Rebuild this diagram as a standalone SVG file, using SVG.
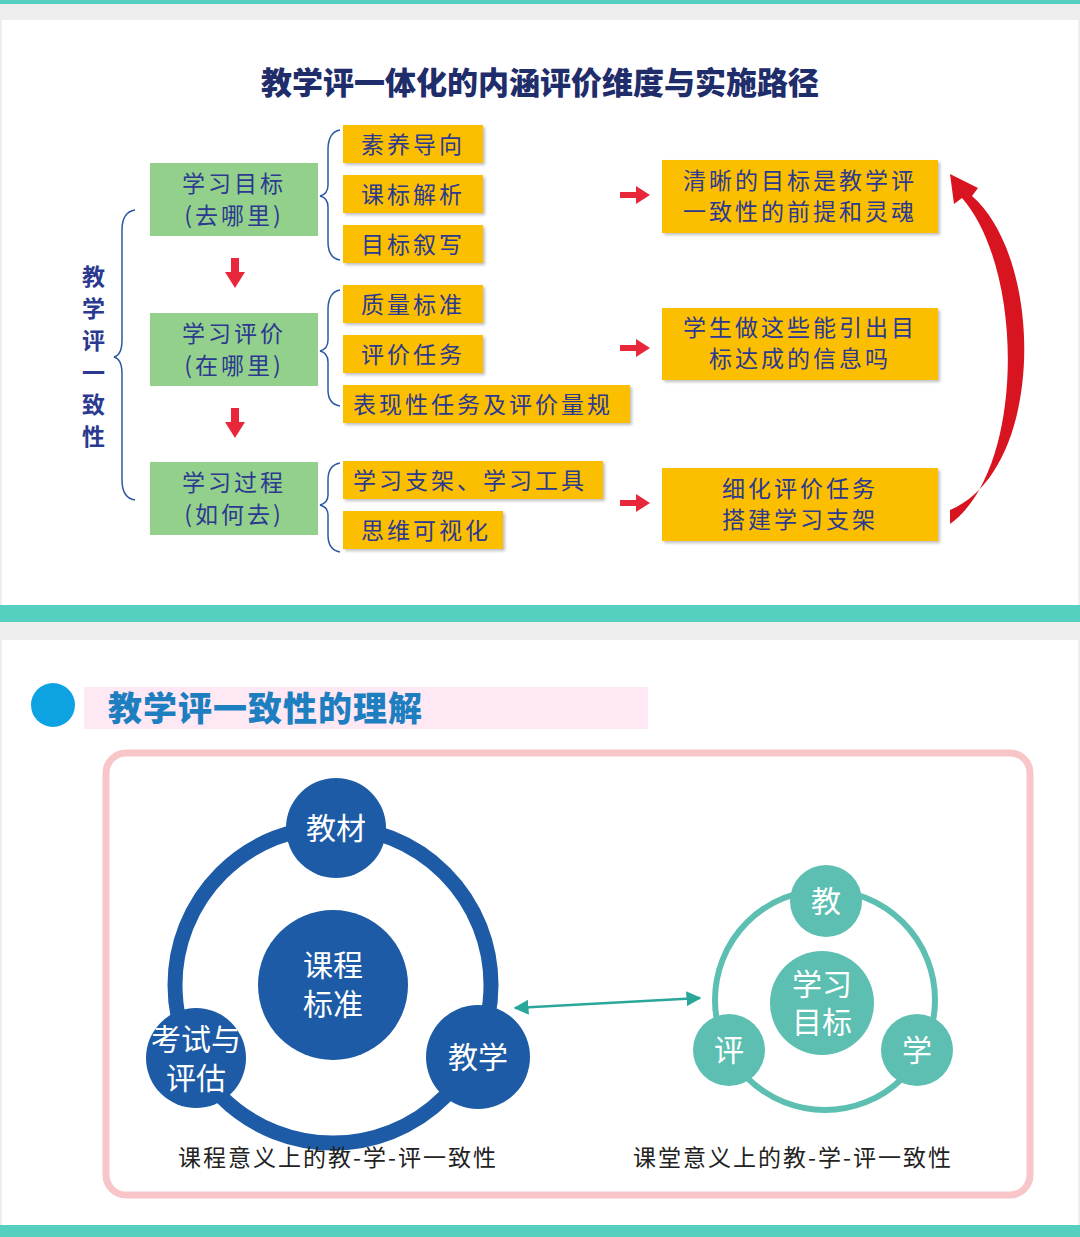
<svg xmlns="http://www.w3.org/2000/svg" width="1080" height="1237" viewBox="0 0 1080 1237">
<defs>
<style>
.g{fill:#93d08b}
.o{fill:#fcbf00}
.t{font-family:"Noto Sans CJK SC","Liberation Serif",serif;fill:#2b3990;font-size:23px;letter-spacing:3px}
.w{font-family:"Noto Sans CJK SC",sans-serif;fill:#fff;font-size:30px;text-anchor:middle}
.br{fill:none;stroke:#2b5aa0;stroke-width:1.5}
.ra{fill:#e8283a}
.cap{font-family:"Noto Sans CJK SC",sans-serif;font-size:23px;fill:#222;letter-spacing:2px;text-anchor:middle}
</style>
<filter id="sh"><feDropShadow dx="2" dy="2" stdDeviation="1.5" flood-color="#000" flood-opacity="0.25"/></filter>
<marker id="ta" viewBox="0 0 10 10" refX="9" refY="5" markerWidth="6" markerHeight="6" orient="auto-start-reverse"><path d="M0,0 L10,5 L0,10 z" fill="#2aa79b"/></marker>
</defs>
<rect width="1080" height="1237" fill="#eeeeee"/>
<rect y="0" width="1080" height="4" fill="#55cfc0"/>
<rect x="2" y="20" width="1076" height="585" fill="#fff"/>
<rect y="605" width="1080" height="17" fill="#55cfc0"/>
<rect x="2" y="640" width="1076" height="585" fill="#fff"/>
<rect y="1225" width="1080" height="12" fill="#55cfc0"/>
<text x="540" y="94" text-anchor="middle" font-family="Noto Sans CJK SC,sans-serif" font-weight="900" font-size="31" fill="#1f2d6b">教学评一体化的内涵评价维度与实施路径</text>

<g id="side"><path class="br" d="M135,210 Q122,212 122,230 L122,340 Q122,355 114,357 Q122,359 122,374 L122,480 Q122,498 135,500"/>
<text class="t" font-weight="bold" font-size="25" x="95" y="285" text-anchor="middle"><tspan x="95">教</tspan><tspan x="95" dy="32">学</tspan><tspan x="95" dy="32">评</tspan><tspan x="95" dy="32">一</tspan><tspan x="95" dy="32">致</tspan><tspan x="95" dy="32">性</tspan></text></g>

<g id="n1"><rect class="g" x="150" y="163" width="168" height="73"/><text class="t" x="234" y="192" text-anchor="middle">学习目标</text><text class="t" x="234" y="224" text-anchor="middle">(去哪里)</text></g>
<g id="n2"><rect class="g" x="150" y="313" width="168" height="73"/><text class="t" x="234" y="342" text-anchor="middle">学习评价</text><text class="t" x="234" y="374" text-anchor="middle">(在哪里)</text></g>
<g id="n3"><rect class="g" x="150" y="462" width="168" height="73"/><text class="t" x="234" y="491" text-anchor="middle">学习过程</text><text class="t" x="234" y="523" text-anchor="middle">(如何去)</text></g>

<g id="items" filter="url(#sh)">
<rect class="o" x="343" y="125" width="140" height="38"/><rect class="o" x="343" y="175" width="140" height="38"/><rect class="o" x="343" y="225" width="140" height="38"/>
<rect class="o" x="343" y="285" width="140" height="38"/><rect class="o" x="343" y="335" width="140" height="38"/><rect class="o" x="343" y="385" width="287" height="38"/>
<rect class="o" x="343" y="461" width="260" height="38"/><rect class="o" x="343" y="511" width="160" height="38"/>
<rect class="o" x="662" y="160" width="276" height="73"/><rect class="o" x="662" y="308" width="276" height="72"/><rect class="o" x="662" y="468" width="276" height="73"/>
</g>
<g id="itemtext">
<text class="t" x="361" y="153">素养导向</text><text class="t" x="361" y="203">课标解析</text><text class="t" x="361" y="253">目标叙写</text>
<text class="t" x="361" y="313">质量标准</text><text class="t" x="361" y="363">评价任务</text><text class="t" x="353" y="413">表现性任务及评价量规</text>
<text class="t" x="353" y="489">学习支架、学习工具</text><text class="t" x="361" y="539">思维可视化</text>
<text class="t" x="800" y="189" text-anchor="middle">清晰的目标是教学评</text><text class="t" x="800" y="220" text-anchor="middle">一致性的前提和灵魂</text>
<text class="t" x="800" y="336" text-anchor="middle">学生做这些能引出目</text><text class="t" x="800" y="367" text-anchor="middle">标达成的信息吗</text>
<text class="t" x="800" y="497" text-anchor="middle">细化评价任务</text><text class="t" x="800" y="528" text-anchor="middle">搭建学习支架</text>
</g>
<g id="connectors">
<path class="br" d="M340,130 Q328,132 328,150 L328,185 Q328,194 320,196 Q328,198 328,207 L328,242 Q328,258 340,260"/>
<path class="br" d="M340,290 Q328,292 328,310 L328,340 Q328,349 320,351 Q328,353 328,362 L328,390 Q328,404 340,406"/>
<path class="br" d="M340,463 Q328,465 328,480 L328,495 Q328,503 320,505 Q328,507 328,515 L328,535 Q328,550 340,552"/>
<path class="ra" d="M231,258 h8 v14 h6 l-10,16 l-10,-16 h6 z"/>
<path class="ra" d="M231,408 h8 v14 h6 l-10,16 l-10,-16 h6 z"/>
<path class="ra" d="M620,192 h16 v-6 l14,9 l-14,9 v-6 h-16 z"/>
<path class="ra" d="M620,345 h16 v-6 l14,9 l-14,9 v-6 h-16 z"/>
<path class="ra" d="M620,500 h16 v-6 l14,9 l-14,9 v-6 h-16 z"/>
<path fill="#d7141f" d="M950,510 C1045,470 1045,260 972,196 L978,188 L950,174 L954,204 L962,198 C1025,270 1025,470 950,524 z"/>
<path d="M515,1008 L700,998" stroke="#2aa79b" stroke-width="2.5" fill="none" marker-start="url(#ta)" marker-end="url(#ta)"/>
</g>

<g id="header2">
<circle cx="53" cy="705" r="22" fill="#0da2e2"/>
<rect x="84" y="687" width="564" height="42" fill="#fde8f4"/>
<text x="108" y="721" font-family="Noto Sans CJK SC,sans-serif" font-weight="900" font-size="34" letter-spacing="1" fill="#1e7fc0">教学评一致性的理解</text>
</g>
<rect x="106" y="753" width="924" height="442" rx="20" fill="none" stroke="#f8c6c9" stroke-width="7"/>

<g id="big">
<circle cx="333" cy="985" r="158" fill="none" stroke="#1d5ba6" stroke-width="15"/>
<circle cx="333" cy="985" r="75" fill="#1d5ba6"/>
<text class="w" x="333" y="976">课程</text><text class="w" x="333" y="1015">标准</text>
<circle cx="336" cy="828" r="50" fill="#1d5ba6"/><text class="w" x="336" y="839">教材</text>
<circle cx="196" cy="1058" r="50" fill="#1d5ba6"/><text class="w" x="196" y="1050">考试与</text><text class="w" x="196" y="1089">评估</text>
<circle cx="478" cy="1057" r="52" fill="#1d5ba6"/><text class="w" x="478" y="1068">教学</text>
</g>
<g id="small">
<circle cx="825" cy="1000" r="110" fill="none" stroke="#5cbfb1" stroke-width="6"/>
<circle cx="822" cy="1003" r="52" fill="#5cbfb1"/>
<text class="w" x="822" y="995">学习</text><text class="w" x="822" y="1033">目标</text>
<circle cx="826" cy="901" r="36" fill="#5cbfb1"/><text class="w" x="826" y="912">教</text>
<circle cx="729" cy="1050" r="36" fill="#5cbfb1"/><text class="w" x="729" y="1061">评</text>
<circle cx="917" cy="1050" r="36" fill="#5cbfb1"/><text class="w" x="917" y="1061">学</text>
</g>
<text class="cap" x="338" y="1166">课程意义上的教-学-评一致性</text>
<text class="cap" x="793" y="1166">课堂意义上的教-学-评一致性</text>
</svg>
